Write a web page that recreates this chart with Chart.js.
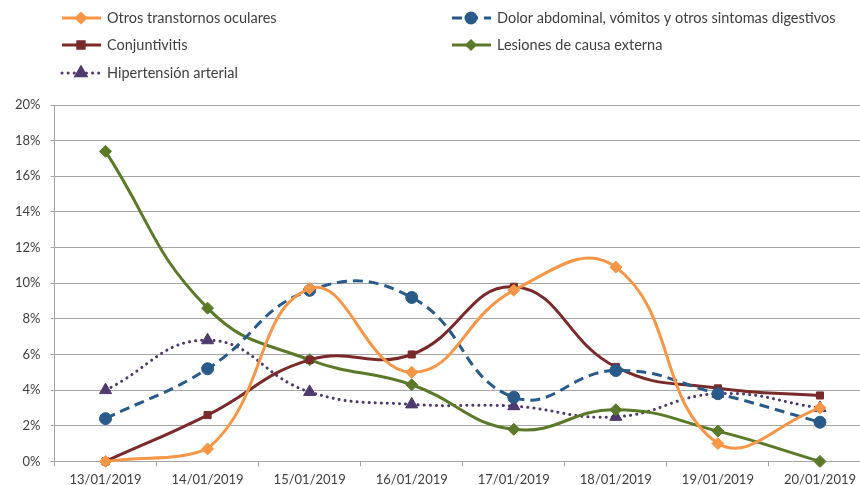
<!DOCTYPE html>
<html>
<head>
<meta charset="utf-8">
<script src="https://cdn.jsdelivr.net/npm/chart.js@4/dist/chart.umd.min.js"></script>
<style>
  html, body { margin: 0; padding: 0; background: #fff; overflow: hidden; }
  #wrap { position: relative; width: 880px; height: 494px; }
</style>
</head>
<body>
<div id="wrap"><canvas id="c"></canvas></div>
<script>
const dates = ['13/01/2019','14/01/2019','15/01/2019','16/01/2019','17/01/2019','18/01/2019','19/01/2019','20/01/2019'];
const yTicks = [0, 0.02, 0.04, 0.06, 0.08, 0.10, 0.12, 0.14, 0.16, 0.18, 0.20];

const otrosOculares = [0.000, 0.007, 0.097, 0.050, 0.096, 0.109, 0.010, 0.030];
const dolorAbdominal = [0.024, 0.052, 0.096, 0.092, 0.036, 0.051, 0.038, 0.022];
const conjuntivitis = [0.000, 0.026, 0.057, 0.060, 0.098, 0.053, 0.041, 0.037];
const lesionesExterna = [0.174, 0.086, 0.057, 0.043, 0.018, 0.029, 0.017, 0.000];
const hipertension = [0.040, 0.068, 0.039, 0.032, 0.031, 0.025, 0.038, 0.030];

const FONT = 'Lato, "Open Sans", sans-serif';
const TXT = '#404040';

function series(label, data, color, style) {
  return {
    label, data,
    borderColor: color, backgroundColor: color,
    pointBackgroundColor: color, pointBorderColor: color,
    borderWidth: style.lw, borderDash: style.dash || [], borderCapStyle: style.cap || 'butt',
    pointStyle: style.ps, pointRadius: style.r,
    pointBorderWidth: 1, pointHoverRadius: style.r,
    legendRadius: style.lr,
    tension: 0.45, cubicInterpolationMode: 'default',
    fill: false, clip: {left: 0, top: 0, right: 0, bottom: 6}
  };
}

const datasets = [
  series('Otros transtornos oculares', otrosOculares, '#F79646', {lw: 3, ps: 'rectRot', r: 6, lr: 4.5}),
  series('Dolor abdominal, vómitos y otros sintomas digestivos', dolorAbdominal, '#285A8A', {lw: 3, ps: 'circle', r: 6, lr: 5, dash: [10, 6]}),
  series('Conjuntivitis', conjuntivitis, '#7A2A2A', {lw: 3, ps: 'rect', r: 5, lr: 4.5}),
  series('Lesiones de causa externa', lesionesExterna, '#5A7A2A', {lw: 3, ps: 'rectRot', r: 6, lr: 4}),
  series('Hipertensión arterial', hipertension, '#4E3A6E', {lw: 3, ps: 'triangle', r: 7, lr: 5.5, dash: [0.1, 6], cap: 'round'})
];

// Legend drawn in two columns above the plot
const legendCols = [[0, 2, 4], [1, 3]];
const colX = [60, 450];
const rowY = [18, 45, 73];
const twoColLegend = {
  id: 'twoColLegend',
  afterDraw(chart) {
    const ctx = chart.ctx;
    ctx.save();
    legendCols.forEach((col, ci) => {
      col.forEach((di, ri) => {
        const ds = chart.data.datasets[di];
        const x = colX[ci], y = rowY[ri];
        ctx.strokeStyle = ds.borderColor;
        ctx.lineWidth = ds.borderWidth;
        ctx.setLineDash(ds.borderDash);
        ctx.lineCap = ds.borderCapStyle;
        ctx.beginPath();
        ctx.moveTo(x + 2, y);
        ctx.lineTo(x + 41, y);
        ctx.stroke();
        ctx.setLineDash([]);
        ctx.lineCap = 'butt';
        ctx.fillStyle = ds.borderColor;
        Chart.helpers.drawPoint(ctx, {
          pointStyle: ds.pointStyle, radius: ds.legendRadius, rotation: 0, borderWidth: 1
        }, x + 21, y);
        ctx.fillStyle = TXT;
        ctx.font = '14.5px ' + FONT;
        ctx.textBaseline = 'middle';
        ctx.textAlign = 'left';
        ctx.fillText(ds.label, x + 47, y);
      });
    });
    ctx.restore();
  }
};

new Chart(document.getElementById('c'), {
  type: 'line',
  data: { labels: dates, datasets },
  options: {
    responsive: true,
    maintainAspectRatio: false,
    animation: false,
    layout: { padding: { top: 105, right: 9, left: 5, bottom: 0 } },
    plugins: { legend: { display: false }, tooltip: { enabled: false } },
    scales: {
      x: {
        offset: true,
        grid: {
          display: true, offset: true, drawOnChartArea: false, drawTicks: true,
          tickLength: 5, color: '#A6A6A6', lineWidth: 1
        },
        border: { display: true, color: '#A6A6A6', width: 1 },
        ticks: { color: TXT, font: { family: FONT, size: 13 }, padding: 6, maxRotation: 0, autoSkip: false }
      },
      y: {
        min: 0, max: 0.2,
        afterBuildTicks(scale) { scale.ticks = yTicks.map(v => ({ value: v })); },
        grid: { color: '#A6A6A6', lineWidth: 1, drawTicks: true, tickLength: 4 },
        border: { display: true, color: '#A6A6A6', width: 1 },
        ticks: {
          color: TXT, font: { family: FONT, size: 13 }, padding: 10,
          callback: v => Math.round(v * 100) + '%'
        }
      }
    }
  },
  plugins: [twoColLegend]
});
</script>
</body>
</html>
